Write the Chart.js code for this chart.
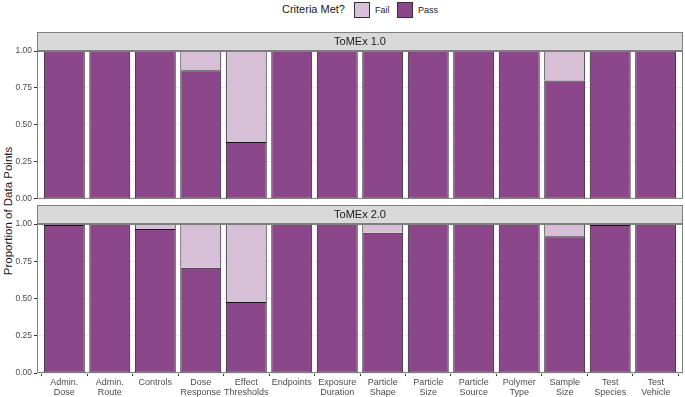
<!DOCTYPE html>
<html>
<head>
<meta charset="utf-8">
<script src="https://cdn.jsdelivr.net/npm/chart.js@4.4.0/dist/chart.umd.min.js"></script>
<style>
  body { margin: 0; background: #fff; font-family: "Liberation Sans", Arial, sans-serif; }
  #wrap { position: relative; width: 685px; height: 397px; overflow: hidden; }
  canvas { position: absolute; left: 0; }
  #top { top: 32px; }
  #bottom { top: 205px; }
  .lg { position: absolute; color: #1a1a1a; white-space: nowrap; }
  .key { position: absolute; top: 2px; width: 14px; height: 14px; border: 1px solid #333; }
  #ytitle { position: absolute; left: -92px; top: 204px; width: 200px; line-height: 14px;
            text-align: center; font-size: 11.5px; color: #1a1a1a; transform: rotate(-90deg); }
</style>
</head>
<body>
<div id="wrap">
  <div id="legend"></div>
  <div id="ytitle">Proportion of Data Points</div>
  <canvas id="top" width="685" height="174"></canvas>
  <canvas id="bottom" width="685" height="192"></canvas>
</div>
<script>
// data
const categories = ['Admin. Dose', 'Admin. Route', 'Controls', 'Dose Response', 'Effect Thresholds',
  'Endpoints', 'Exposure Duration', 'Particle Shape', 'Particle Size', 'Particle Source',
  'Polymer Type', 'Sample Size', 'Test Species', 'Test Vehicle'];
const tickLines = categories.map(c => c.split(' '));

const panelTitles = ['ToMEx 1.0', 'ToMEx 2.0'];
const seriesNames = ['Fail', 'Pass'];

// ToMEx 1.0
const pass1 = [1, 1, 1, 0.87, 0.385, 1, 1, 1, 1, 1, 1, 0.80, 1, 1];
const fail1 = [0, 0, 0, 0.13, 0.615, 0, 0, 0, 0, 0, 0, 0.20, 0, 0];
// ToMEx 2.0
const pass2 = [0.993, 1, 0.967, 0.706, 0.477, 1, 1, 0.942, 1, 1, 1, 0.917, 0.993, 1];
const fail2 = [0.007, 0, 0.033, 0.294, 0.523, 0, 0, 0.058, 0, 0, 0, 0.083, 0.007, 0];

const yTicks = [0, 0.25, 0.5, 0.75, 1];
const yGrid = [0, 0.125, 0.25, 0.375, 0.5, 0.625, 0.75, 0.875, 1];

const colors = { Fail: '#D8BFD8', Pass: '#8B4789' };
const FONT = '"Liberation Sans", Arial, sans-serif';

// legend (html)
const legend = document.getElementById('legend');
legend.innerHTML =
  '<span class="lg" style="left:282px;top:3px;font-size:11px">Criteria Met?</span>' +
  '<span class="key" style="left:354px;background:' + colors.Fail + '"></span>' +
  '<span class="lg" style="left:375px;top:5px;font-size:9px">' + seriesNames[0] + '</span>' +
  '<span class="key" style="left:397px;background:' + colors.Pass + '"></span>' +
  '<span class="lg" style="left:418px;top:5px;font-size:9px">' + seriesNames[1] + '</span>';

// strip header + panel border
const panelDeco = {
  id: 'panelDeco',
  afterDatasetsDraw(chart, args, opts) {
    const ctx = chart.ctx, a = chart.chartArea;
    ctx.save();
    ctx.strokeStyle = '#7f7f7f';
    ctx.lineWidth = 1;
    ctx.strokeRect(a.left + 0.5, a.top + 0.5, a.width - 1, a.height - 1);
    ctx.fillStyle = '#d9d9d9';
    ctx.fillRect(a.left, a.top - 19, a.width, 19);
    ctx.strokeRect(a.left + 0.5, a.top - 18.5, a.width - 1, 18);
    ctx.fillStyle = '#1a1a1a';
    ctx.font = '11px ' + FONT;
    ctx.textAlign = 'center';
    ctx.textBaseline = 'middle';
    ctx.fillText(opts.title, (a.left + a.right) / 2, a.top - 9);
    ctx.restore();
  }
};

function makeChart(id, pass, fail, title, showX) {
  return new Chart(document.getElementById(id), {
    type: 'bar',
    data: {
      datasets: [
        { label: 'Pass', data: pass.map((v, i) => ({ x: i + 1, y: v })),
          backgroundColor: colors.Pass, borderColor: '#141414', borderWidth: 1, borderSkipped: false },
        { label: 'Fail', data: fail.map((v, i) => ({ x: i + 1, y: v })),
          backgroundColor: colors.Fail, borderColor: '#141414', borderWidth: 1, borderSkipped: 'bottom' }
      ]
    },
    options: {
      responsive: false,
      animation: false,
      layout: { padding: { top: 19, right: 2, bottom: showX ? 0 : 6, left: 0 } },
      datasets: { bar: { categoryPercentage: 1, barPercentage: 0.9 } },
      plugins: { legend: { display: false }, tooltip: { enabled: false }, panelDeco: { title: title } },
      scales: {
        x: {
          type: 'linear', stacked: true, min: 0.4, max: 14.6, offset: false, display: showX,
          afterBuildTicks: s => { s.ticks = categories.map((c, i) => ({ value: i + 1 })); },
          afterFit: s => { if (showX) s.height = 24; },
          grid: { drawOnChartArea: false, tickLength: 3, tickColor: '#333' },
          border: { display: false },
          ticks: { autoSkip: false, maxRotation: 0, padding: 2, color: '#4d4d4d',
                   font: { family: FONT, size: 9, lineHeight: 1.1 },
                   callback: v => tickLines[v - 1] }
        },
        y: {
          stacked: true, min: 0, max: 1,
          afterBuildTicks: s => { s.ticks = yGrid.map(v => ({ value: v })); },
          afterFit: s => { s.width = 37; },
          border: { display: false },
          grid: {
            color: c => yTicks.includes(c.tick.value) ? '#ebebeb' : '#f3f3f3',
            lineWidth: c => yTicks.includes(c.tick.value) ? 1 : 0.6,
            tickColor: c => yTicks.includes(c.tick.value) ? '#333' : 'rgba(0,0,0,0)',
            tickLength: 3
          },
          ticks: { padding: 2, color: '#4d4d4d', font: { family: FONT, size: 8.5 },
                   callback: v => yTicks.includes(v) ? v.toFixed(2) : '' }
        }
      }
    },
    plugins: [panelDeco]
  });
}

makeChart('top', pass1, fail1, panelTitles[0], false);
makeChart('bottom', pass2, fail2, panelTitles[1], true);
</script>
</body>
</html>
